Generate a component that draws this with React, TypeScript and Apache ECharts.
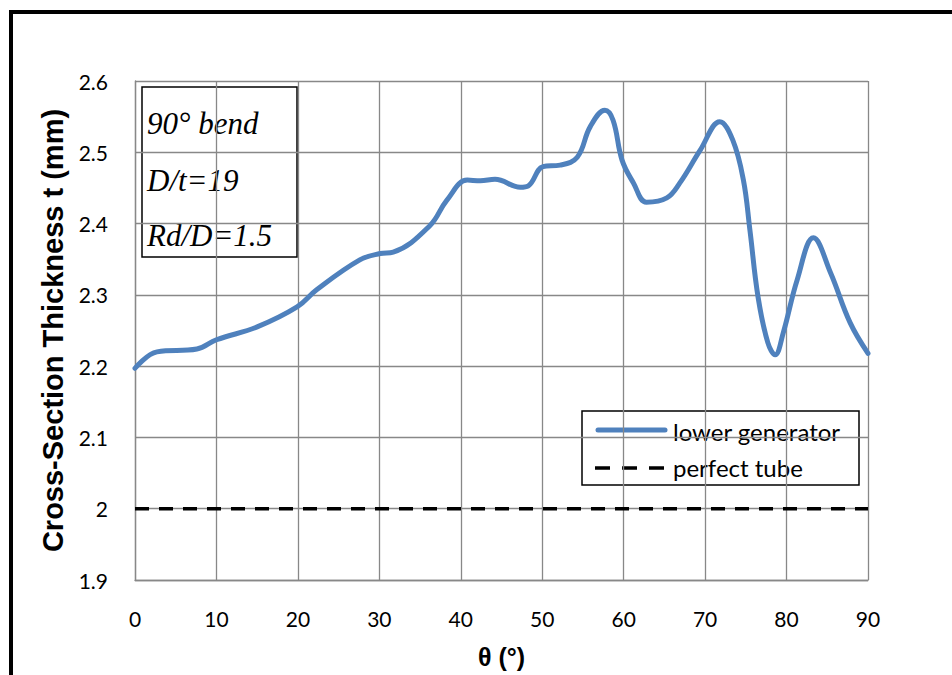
import React, { useEffect, useRef } from "react";
import * as echarts from "echarts";

const thetaDeg = [0, 2.7, 7.6, 10, 15, 19.9, 22.3, 27.6, 30.1, 31.7, 36.2, 38.3, 40.8, 42.4, 44.2, 47.3, 48.3, 50.1, 52.2, 54.3, 55.9, 57.7, 58.7, 59.8, 61.2, 62.8, 65.3, 66.9, 69.4, 71.8, 73.4, 74.7, 75.5, 76.5, 77.7, 78.6, 79.6, 81.3, 83.3, 85.4, 87.8, 90];
const lowerGenerator = [2.197, 2.22, 2.224, 2.237, 2.255, 2.283, 2.307, 2.349, 2.358, 2.36, 2.397, 2.433, 2.461, 2.46, 2.462, 2.451, 2.453, 2.48, 2.482, 2.493, 2.536, 2.559, 2.545, 2.489, 2.457, 2.43, 2.436, 2.457, 2.503, 2.543, 2.517, 2.461, 2.391, 2.297, 2.233, 2.216, 2.247, 2.321, 2.38, 2.331, 2.261, 2.218];
const perfectTheta = [0, 90];
const perfectTube = [2, 2];
const seriesNames = ["lower generator", "perfect tube"];
const infoLines = ["90° bend", "D/t=19", "Rd/D=1.5"];
const xTitle = "θ (°)";
const yTitle = "Cross-Section Thickness t (mm)";

const BLUE = "#4F81BD";
const GRID = "#888888";
const SANS = "Lato, 'Open Sans', sans-serif";

export default function App() {
  const ref = useRef<HTMLDivElement>(null);
  useEffect(() => {
    if (!ref.current) return;
    const chart = echarts.init(ref.current, null, { renderer: "svg" });
    chart.setOption({
      animation: false,
      backgroundColor: "#fff",
      grid: { left: 135, top: 81, width: 733, height: 499, containLabel: false },
      xAxis: {
        type: "value",
        min: 0,
        max: 90,
        interval: 10,
        name: xTitle,
        nameLocation: "middle",
        nameGap: 64,
        nameTextStyle: { fontFamily: "'Liberation Sans', Arial", fontWeight: "bold", fontSize: 25, color: "#000" },
        axisLine: { show: true, lineStyle: { color: GRID, width: 1.3 } },
        axisTick: { show: false },
        axisLabel: { margin: 28, fontFamily: SANS, fontSize: 21, color: "#000" },
        splitLine: { show: true, lineStyle: { color: GRID, width: 1.3 } },
      },
      yAxis: {
        type: "value",
        min: 1.9,
        max: 2.6,
        interval: 0.1,
        name: yTitle,
        nameLocation: "middle",
        nameRotate: 90,
        nameGap: 67,
        nameTextStyle: { fontFamily: "'Liberation Sans', Arial", fontWeight: "bold", fontSize: 29, color: "#000" },
        axisLine: { show: true, lineStyle: { color: GRID, width: 1.3 } },
        axisTick: { show: false },
        axisLabel: {
          margin: 27,
          fontFamily: SANS,
          fontSize: 21,
          color: "#000",
          formatter: (v: number) => String(Math.round(v * 10) / 10),
        },
        splitLine: { show: true, lineStyle: { color: GRID, width: 1.3 } },
      },
      series: [
        {
          name: seriesNames[0],
          type: "line",
          data: thetaDeg.map((t, i) => [t, lowerGenerator[i]]),
          smooth: 0.4,
          symbol: "none",
          lineStyle: { color: BLUE, width: 5, cap: "round", join: "round" },
          z: 3,
        },
        {
          name: seriesNames[1],
          type: "line",
          data: perfectTheta.map((t, i) => [t, perfectTube[i]]),
          symbol: "none",
          lineStyle: { color: "#000", width: 3.5, type: [14, 10] },
          z: 2,
        },
      ],
      graphic: [
        {
          type: "rect",
          shape: { x: 11, y: 12, width: 1200, height: 1200 },
          style: { fill: "none", stroke: "#000", lineWidth: 4 },
          silent: true,
          z: 100,
        },
        {
          type: "group",
          z: 50,
          children: [
            {
              type: "rect",
              shape: { x: 142, y: 87, width: 155, height: 170 },
              style: { fill: "#fff", stroke: "#000", lineWidth: 1.5 },
            },
            ...infoLines.map((s, i) => ({
              type: "text",
              x: 147,
              y: [123, 180, 235][i],
              style: {
                text: s,
                fontFamily: "'Liberation Serif', 'Times New Roman', serif",
                fontStyle: "italic",
                fontSize: 31,
                fill: "#000",
                verticalAlign: "middle",
                textAlign: "left",
              },
            })),
          ],
        },
        {
          type: "group",
          z: 50,
          children: [
            {
              type: "rect",
              shape: { x: 582, y: 411, width: 277, height: 74 },
              style: { fill: "#fff", stroke: "#000", lineWidth: 1.5 },
            },
            {
              type: "line",
              shape: { x1: 598, y1: 430, x2: 665, y2: 430 },
              style: { stroke: BLUE, lineWidth: 5, lineCap: "round" },
            },
            {
              type: "line",
              shape: { x1: 595, y1: 468, x2: 667, y2: 468 },
              style: { stroke: "#000", lineWidth: 3.5, lineDash: [15, 12] },
            },
            {
              type: "text",
              x: 673,
              y: 431,
              style: { text: seriesNames[0], fontFamily: SANS, fontSize: 24, fill: "#000", verticalAlign: "middle" },
            },
            {
              type: "text",
              x: 673,
              y: 467,
              style: { text: seriesNames[1], fontFamily: SANS, fontSize: 24, fill: "#000", verticalAlign: "middle" },
            },
          ],
        },
      ],
    });
    return () => chart.dispose();
  }, []);
  return <div ref={ref} style={{ position: "fixed", left: 0, top: 0, width: 952, height: 675 }} />;
}
